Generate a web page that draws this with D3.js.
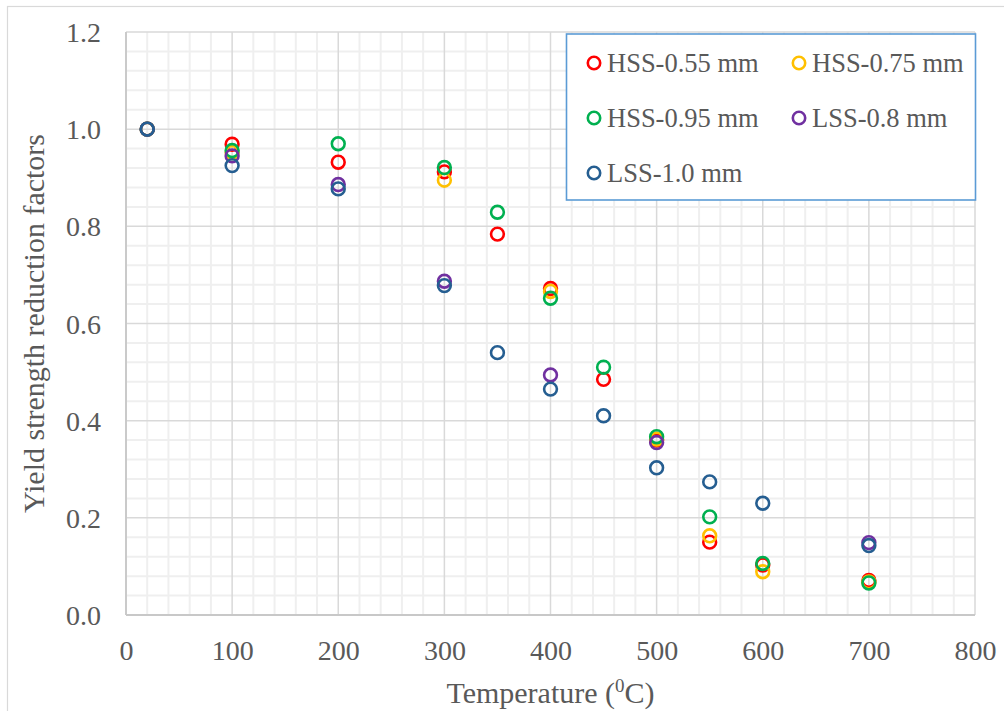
<!DOCTYPE html>
<html><head><meta charset="utf-8">
<script src="https://cdn.jsdelivr.net/npm/d3@7"></script>
<style>body{margin:0;background:#fff}svg{display:block}text{font-family:"Liberation Serif","Times New Roman",serif;fill:#595959}</style>
</head><body><svg id="c" width="1004" height="711"></svg>
<script>
const seriesNames = ["HSS-0.55 mm","HSS-0.75 mm","HSS-0.95 mm","LSS-0.8 mm","LSS-1.0 mm"];
const seriesColors = ["#ff0000","#ffc000","#00b050","#7030a0","#255e91"];
const tempsHSS055 = [20,100,200,300,350,400,450,500,550,600,700];
const valsHSS055  = [1.0,0.969,0.932,0.912,0.784,0.672,0.485,0.360,0.150,0.103,0.071];
const tempsHSS075 = [20,100,300,400,500,550,600,700];
const valsHSS075  = [1.0,0.952,0.895,0.666,0.362,0.163,0.089,0.068];
const tempsHSS095 = [20,100,200,300,350,400,450,500,550,600,700];
const valsHSS095  = [1.0,0.956,0.970,0.921,0.829,0.652,0.510,0.367,0.202,0.106,0.066];
const tempsLSS08  = [20,100,200,300,400,500,700];
const valsLSS08   = [1.0,0.945,0.886,0.687,0.494,0.355,0.149];
const tempsLSS10  = [20,100,200,300,350,400,450,500,550,600,700];
const valsLSS10   = [1.0,0.925,0.877,0.678,0.540,0.465,0.410,0.303,0.274,0.230,0.143];
const xTicks = [0,100,200,300,400,500,600,700,800];
const yTicks = [0,0.2,0.4,0.6,0.8,1.0,1.2];
const xTitle = "Temperature (";
const yTitle = "Yield strength reduction factors";

const seriesTemps = [tempsHSS055,tempsHSS075,tempsHSS095,tempsLSS08,tempsLSS10];
const seriesVals = [valsHSS055,valsHSS075,valsHSS095,valsLSS08,valsLSS10];

const svg = d3.select("#c");
const L=126,R=975,T=32,B=615;
const x = d3.scaleLinear().domain([0,800]).range([L,R]);
const y = d3.scaleLinear().domain([0,1.2]).range([B,T]);

// outer chart border
svg.append("rect").attr("x",7.5).attr("y",6.5).attr("width",1010).attr("height",720)
  .attr("fill","none").attr("stroke","#d9d9d9").attr("stroke-width",1.2);

const g = svg.append("g");
// minor grid
g.selectAll(".mx").data(d3.range(0,801,20).filter(v=>v%100!==0)).join("line")
  .attr("x1",d=>x(d)).attr("x2",d=>x(d)).attr("y1",T).attr("y2",B)
  .attr("stroke","#efefef").attr("stroke-width",2);
g.selectAll(".my").data(d3.range(0,31).map(i=>i*0.04).filter((v,i)=>i%5!==0)).join("line")
  .attr("y1",d=>y(d)).attr("y2",d=>y(d)).attr("x1",L).attr("x2",R)
  .attr("stroke","#efefef").attr("stroke-width",2);
// major grid
g.selectAll(".Mx").data(xTicks).join("line")
  .attr("x1",d=>x(d)).attr("x2",d=>x(d)).attr("y1",T).attr("y2",B)
  .attr("stroke","#d9d9d9").attr("stroke-width",1.5);
g.selectAll(".My").data(yTicks).join("line")
  .attr("y1",d=>y(d)).attr("y2",d=>y(d)).attr("x1",L).attr("x2",R)
  .attr("stroke","#d9d9d9").attr("stroke-width",1.5);
// axis lines
g.append("line").attr("x1",L).attr("x2",L).attr("y1",T).attr("y2",B).attr("stroke","#c8c8c8").attr("stroke-width",1.8);
g.append("line").attr("x1",L).attr("x2",R).attr("y1",B).attr("y2",B).attr("stroke","#c8c8c8").attr("stroke-width",1.8);

// axes labels via d3 axes
const xAxis = d3.axisBottom(x).tickValues(xTicks).tickSize(0).tickPadding(0).tickFormat(d3.format("d"));
const xa = svg.append("g").attr("transform",`translate(0,${B})`).call(xAxis);
xa.select(".domain").remove();
xa.selectAll("text").attr("font-size",28).attr("fill","#595959").attr("dy",null).attr("y",45)
  .style("font-family",'"Liberation Serif",serif');
const yAxis = d3.axisLeft(y).tickValues(yTicks).tickSize(0).tickPadding(0).tickFormat(d3.format(".1f"));
const ya = svg.append("g").attr("transform",`translate(101,0)`).call(yAxis);
ya.select(".domain").remove();
ya.selectAll("text").attr("font-size",28).attr("fill","#595959").attr("dy","0.34em")
  .style("font-family",'"Liberation Serif",serif');

// titles
const xt = svg.append("text").attr("x",(L+R)/2).attr("y",703).attr("text-anchor","middle").attr("font-size",30);
xt.append("tspan").text(xTitle);
xt.append("tspan").attr("font-size",19).attr("dy",-11).text("0");
xt.append("tspan").attr("dy",11).text("C)");
svg.append("text").attr("transform",`translate(44,${(T+B)/2}) rotate(-90)`).attr("text-anchor","middle")
  .attr("font-size",30).text(yTitle);

// points
seriesNames.forEach((name,i)=>{
  const pts = seriesTemps[i].map((t,j)=>({t,v:seriesVals[i][j]}));
  svg.append("g").selectAll("circle").data(pts).join("circle")
    .attr("cx",d=>x(d.t)).attr("cy",d=>y(d.v)).attr("r",6.4)
    .attr("fill","none").attr("stroke",seriesColors[i]).attr("stroke-width",2.6);
});

// legend
const lg = svg.append("g");
lg.append("rect").attr("x",566.5).attr("y",34).attr("width",409).attr("height",166)
  .attr("fill","#fff").attr("stroke","#5b9bd5").attr("stroke-width",1.6);
const lpos = [[594,63],[799,63],[594,118],[799,118],[594,173]];
seriesNames.forEach((name,i)=>{
  const [lx,ly]=lpos[i];
  lg.append("circle").attr("cx",lx).attr("cy",ly).attr("r",6.2).attr("fill","none")
    .attr("stroke",seriesColors[i]).attr("stroke-width",2.6);
  lg.append("text").attr("x",lx+13).attr("y",ly+9).attr("font-size",26.5).text(name);
});
</script></body></html>
